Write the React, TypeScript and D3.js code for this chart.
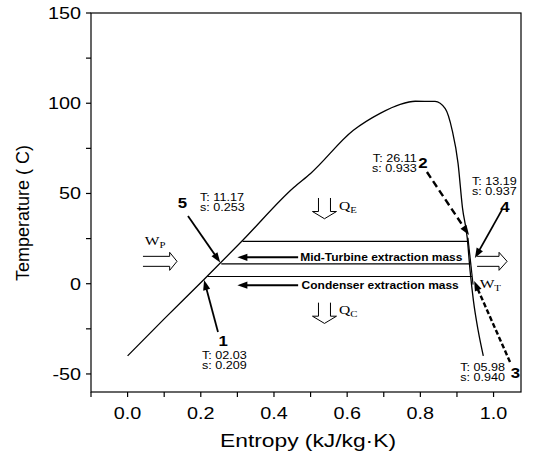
import React from 'react';
import * as d3 from 'd3';

// Saturation dome (entropy kJ/kg·K, temperature °C)
const domeS = [0.0, 0.1, 0.208, 0.314, 0.454, 0.5, 0.617, 0.69, 0.745, 0.786, 0.84, 0.868, 0.887, 0.903, 0.915, 0.928, 0.936, 0.945, 0.958, 0.972];
const domeT = [-40, -19.5, 2.2, 23.9, 53.3, 61.1, 85, 94.4, 99.4, 101.1, 101, 97, 85, 66.7, 42.2, 25.5, 7, -9.4, -26, -40];

// Cycle horizontal lines: level T, start s (liquid side), end s (turbine side)
const levelT = [23.5, 11.0, 4.0];
const levelS0 = [0.314, 0.256, 0.218];
const levelS1 = [0.931, 0.937, 0.941];
// turbine expansion edge
const edgeS = [0.930, 0.944];
const edgeT = [25.5, -0.5];

// State points
const ptName = ['1', '2', '3', '4', '5'];
const ptTLabel = ['02.03', '26.11', '05.98', '13.19', '11.17'];
const ptSLabel = ['0.209', '0.933', '0.940', '0.937', '0.253'];

const xTicks = [-0.1, 0.0, 0.1, 0.2, 0.3, 0.4, 0.5, 0.6, 0.7, 0.8, 0.9, 1.0];
const xLabels = [0.0, 0.2, 0.4, 0.6, 0.8, 1.0];
const yTicks = [-50, -25, 0, 25, 50, 75, 100, 125, 150];
const yLabels = [-50, 0, 50, 100, 150];

const W = 534, H = 460;
const L = 91, R = 521, T0 = 13, B = 392;
const x = d3.scaleLinear().domain([-0.1, 1.075]).range([L, R]);
const y = d3.scaleLinear().domain([-60, 150]).range([B, T0]);

const SANS = '"Liberation Sans", Arial, Helvetica, sans-serif';
const SERIF = '"Liberation Serif", "Times New Roman", serif';
const SX = 1.2; // horizontal stretch of the reference's lettering

function ST({ x: px, y: py, anchor = 'start', size = 12, weight = 'normal', family = SANS, dy, children }: any) {
  return (
    <text transform={`translate(${px},${py}) scale(${SX},1)`} textAnchor={anchor} fontFamily={family}
      fontSize={size} fontWeight={weight} dy={dy}>{children}</text>
  );
}

function Arrow({ x1, y1, x2, y2, dash, width = 1.8 }: any) {
  const dx = x2 - x1, dy = y2 - y1;
  const len = Math.hypot(dx, dy);
  const ux = dx / len, uy = dy / len;
  const hl = 10, hw = 3.6;
  const bx = x2 - ux * hl, by = y2 - uy * hl;
  const pts = [
    [x2, y2],
    [bx - uy * hw, by + ux * hw],
    [bx + uy * hw, by - ux * hw],
  ];
  return (
    <g>
      <line x1={x1} y1={y1} x2={x2 - ux * (hl - 2)} y2={y2 - uy * (hl - 2)} stroke="#000" strokeWidth={width} strokeDasharray={dash} />
      <polygon points={pts.map(p => p.join(',')).join(' ')} fill="#000" />
    </g>
  );
}

function HollowRight({ x0, x1, xt, yc }: any) {
  const h = 5, w = 9;
  const d = `M${x0},${yc - h} H${x1} V${yc - w} L${xt},${yc} L${x1},${yc + w} V${yc + h} H${x0}`;
  return <path d={d} fill="none" stroke="#000" strokeWidth={1} />;
}

function HollowDown({ cx, y0, y1, yt }: any) {
  const h = 6, w = 12;
  const d = `M${cx - h},${y0} V${y1} H${cx - w} L${cx},${yt} L${cx + w},${y1} H${cx + h} V${y0}`;
  return <path d={d} fill="none" stroke="#000" strokeWidth={1} />;
}

export default function App() {
  const dome = d3.line<number>()
    .x((_, i) => x(domeS[i]))
    .y((d) => y(d))
    .curve(d3.curveMonotoneX)(domeT) as string;

  // annotation layout in data coordinates
  const ann = [
    { i: 0, from: [0.247, -26.8], tip: [0.209, 2.03], num: [0.261, -31.5], txt: [0.203, -39.6], anchor: 'start', dash: undefined },
    { i: 1, from: [0.818, 61.9], tip: [0.933, 27.0], num: [0.807, 67.0], txt: [0.790, 69.6], anchor: 'end', dash: '7,4' },
    { i: 2, from: [1.045, -43.4], tip: [0.947, 1.5], num: [1.060, -49.5], txt: [1.031, -46.4], anchor: 'end', dash: '5,2.5' },
    { i: 3, from: [1.023, 40.9], tip: [0.949, 14.2], num: [1.031, 42.6], txt: [0.941, 57.0], anchor: 'start', dash: undefined },
    { i: 4, from: [0.165, 37.5], tip: [0.253, 11.8], num: [0.150, 44.6], txt: [0.198, 48.0], anchor: 'start', dash: undefined },
  ];

  return (
    <svg width={W} height={H} style={{ position: 'absolute', left: 0, top: 0, background: '#fff' }}>
      <rect x={0} y={0} width={W} height={H} fill="#fff" />
      {/* frame */}
      <rect x={L} y={T0} width={R - L} height={B - T0} fill="none" stroke="#000" strokeWidth={1.2} />
      {/* x ticks */}
      {xTicks.map(t => (
        <line key={'xt' + t} x1={x(t)} x2={x(t)} y1={B} y2={B + 5} stroke="#000" strokeWidth={1.2} />
      ))}
      {xLabels.map(t => (
        <ST key={'xl' + t} x={x(t)} y={419} anchor="middle" size={16.5}>{t.toFixed(1)}</ST>
      ))}
      {yTicks.map(t => (
        <line key={'yt' + t} x1={L - 5} x2={L} y1={y(t)} y2={y(t)} stroke="#000" strokeWidth={1.2} />
      ))}
      {yLabels.map(t => (
        <ST key={'yl' + t} x={81} y={y(t)} dy="0.36em" anchor="end" size={16.5}>{t}</ST>
      ))}
      <ST x={308} y={447} anchor="middle" size={19}>Entropy (kJ/kg·K)</ST>
      <text transform={`translate(29,213) rotate(-90)`} textAnchor="middle" fontFamily={SANS} fontSize={18}>Temperature ( C)</text>

      {/* dome */}
      <path d={dome} fill="none" stroke="#000" strokeWidth={1.3} />

      {/* cycle lines */}
      {levelT.map((t, i) => (
        <line key={'lv' + i} x1={x(levelS0[i])} x2={x(levelS1[i])} y1={y(t)} y2={y(t)} stroke="#000" strokeWidth={1.2} />
      ))}
      <line x1={x(edgeS[0])} y1={y(edgeT[0])} x2={x(edgeS[1])} y2={y(edgeT[1])} stroke="#000" strokeWidth={1.2} />

      {/* extraction arrows */}
      <Arrow x1={x(0.466)} y1={y(14.6)} x2={x(0.300)} y2={y(14.6)} width={2} />
      <Arrow x1={x(0.466)} y1={y(-0.8)} x2={x(0.300)} y2={y(-0.8)} width={2} />
      <ST x={x(0.915)} y={y(14.6)} dy="0.36em" anchor="end" weight="bold" size={10}>Mid-Turbine extraction mass</ST>
      <ST x={x(0.905)} y={y(-0.8)} dy="0.36em" anchor="end" weight="bold" size={10}>Condenser extraction mass</ST>

      {/* state point annotations */}
      {ann.map(a => (
        <g key={'a' + a.i}>
          <Arrow x1={x(a.from[0])} y1={y(a.from[1])} x2={x(a.tip[0])} y2={y(a.tip[1])} dash={a.dash} width={a.dash ? 2.4 : 1.8} />
          <ST x={x(a.num[0])} y={y(a.num[1])} dy="0.36em" anchor="middle" weight="bold" size={14}>{ptName[a.i]}</ST>
          <ST x={x(a.txt[0])} y={y(a.txt[1])} dy="0.36em" anchor={a.anchor} size={10.5}>{'T: ' + ptTLabel[a.i]}</ST>
          <ST x={x(a.txt[0])} y={y(a.txt[1]) + 10} dy="0.36em" anchor={a.anchor} size={10.5}>{'s: ' + ptSLabel[a.i]}</ST>
        </g>
      ))}

      {/* work / heat symbols */}
      <HollowRight x0={x(0.042)} x1={x(0.115)} xt={x(0.135)} yc={y(12.4)} />
      <ST x={x(0.047)} y={y(21.5)} family={SERIF} size={13}>W<tspan fontSize={9} dy={3}>P</tspan></ST>
      <HollowRight x0={x(0.955)} x1={x(1.015)} xt={x(1.037)} yc={y(12.4)} />
      <ST x={x(0.962)} y={y(-2.5)} family={SERIF} size={13}>W<tspan fontSize={9} dy={3}>T</tspan></ST>
      <HollowDown cx={x(0.538)} y0={y(47.5)} y1={y(40)} yt={y(36)} />
      <ST x={x(0.578)} y={y(41)} family={SERIF} size={13}>Q<tspan fontSize={9} dy={3}>E</tspan></ST>
      <HollowDown cx={x(0.538)} y0={y(-10.5)} y1={y(-18)} yt={y(-22)} />
      <ST x={x(0.578)} y={y(-17)} family={SERIF} size={13}>Q<tspan fontSize={9} dy={3}>C</tspan></ST>
    </svg>
  );
}
